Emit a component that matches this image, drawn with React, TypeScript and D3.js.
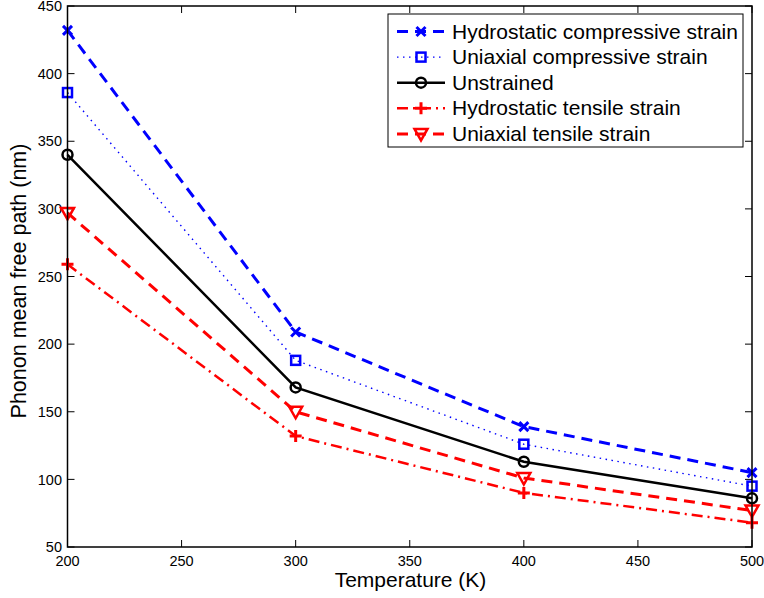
import React from "react";
import * as d3 from "d3";

const temperatures = [200, 300, 400, 500];
const hydroCompressive = [432, 209, 139, 105];
const uniaxialCompressive = [386, 188, 126, 95];
const unstrained = [340, 168, 113, 86];
const hydroTensile = [259, 132, 90, 68];
const uniaxialTensile = [297, 150, 101, 77];
const seriesNames = [
  "Hydrostatic compressive strain",
  "Uniaxial compressive strain",
  "Unstrained",
  "Hydrostatic tensile strain",
  "Uniaxial tensile strain",
];
const xTicks = [200, 250, 300, 350, 400, 450, 500];
const yTicks = [50, 100, 150, 200, 250, 300, 350, 400, 450];

type Style = { color: string; dash: string; width: number; marker: string };
const styles: Style[] = [
  { color: "#0000ff", dash: "11,7", width: 3, marker: "x" },
  { color: "#0000ff", dash: "1.5,4.5", width: 1.4, marker: "square" },
  { color: "#000000", dash: "", width: 2.5, marker: "circle" },
  { color: "#ff0000", dash: "11,5,2,5", width: 2.5, marker: "plus" },
  { color: "#ff0000", dash: "11,7", width: 3, marker: "tri" },
];

const W = 764, H = 598;
const L = 67.5, R = 752, T = 6, B = 547;

function Marker({ type, x, y, color }: { type: string; x: number; y: number; color: string }) {
  const s = 4.5;
  if (type === "x")
    return (
      <path d={`M${x - s},${y - s}L${x + s},${y + s}M${x - s},${y + s}L${x + s},${y - s}`} stroke={color} strokeWidth={3} fill="none" />
    );
  if (type === "square")
    return <rect x={x - 4.5} y={y - 4.5} width={9} height={9} stroke={color} strokeWidth={2.5} fill="none" />;
  if (type === "circle") return <circle cx={x} cy={y} r={5} stroke={color} strokeWidth={2.5} fill="none" />;
  if (type === "plus")
    return (
      <path d={`M${x - 6},${y}L${x + 6},${y}M${x},${y - 6}L${x},${y + 6}`} stroke={color} strokeWidth={3} fill="none" />
    );
  return (
    <path d={`M${x - 6.5},${y - 5}L${x + 6.5},${y - 5}L${x},${y + 6.5}Z`} stroke={color} strokeWidth={2.5} fill="none" strokeLinejoin="miter" />
  );
}

export default function App() {
  const x = d3.scaleLinear().domain([200, 500]).range([L, R]);
  const y = d3.scaleLinear().domain([50, 450]).range([B, T]);
  const data = [hydroCompressive, uniaxialCompressive, unstrained, hydroTensile, uniaxialTensile];
  const line = d3
    .line<number>()
    .x((_, i) => x(temperatures[i]))
    .y((d) => y(d));
  const font = "'Liberation Sans', Arial, Helvetica, sans-serif";
  const legX = 388, legY = 14, legW = 355, legH = 133;
  return (
    <svg width={W} height={H} style={{ position: "absolute", left: 0, top: 0 }} fontFamily={font}>
      <rect width={W} height={H} fill="#fff" />
      {xTicks.map((t) => (
        <g key={"x" + t}>
          <line x1={x(t)} x2={x(t)} y1={B} y2={B - 7} stroke="#000" strokeWidth={1} />
          <line x1={x(t)} x2={x(t)} y1={T} y2={T + 7} stroke="#000" strokeWidth={1} />
          <text x={x(t)} y={565.5} fontSize={14.5} textAnchor="middle">{t}</text>
        </g>
      ))}
      {yTicks.map((t) => (
        <g key={"y" + t}>
          <line x1={L} x2={L + 7} y1={y(t)} y2={y(t)} stroke="#000" strokeWidth={1} />
          <line x1={R} x2={R - 7} y1={y(t)} y2={y(t)} stroke="#000" strokeWidth={1} />
          <text x={62} y={y(t) + 5.2} fontSize={14.5} textAnchor="end">{t}</text>
        </g>
      ))}
      {data.map((d, i) => (
        <g key={"s" + i}>
          <path d={line(d) || ""} fill="none" stroke={styles[i].color} strokeWidth={styles[i].width} strokeDasharray={styles[i].dash} />
          {d.map((v, j) => (
            <Marker key={j} type={styles[i].marker} x={x(temperatures[j])} y={y(v)} color={styles[i].color} />
          ))}
        </g>
      ))}
      <rect x={L} y={T} width={R - L} height={B - T} fill="none" stroke="#000" strokeWidth={1.5} />
      <rect x={legX} y={legY} width={legW} height={legH} fill="#fff" stroke="#000" strokeWidth={1} />
      {seriesNames.map((n, i) => {
        const ry = 31.5 + i * 25.6;
        return (
          <g key={"l" + i}>
            <line x1={397} x2={445} y1={ry} y2={ry} stroke={styles[i].color} strokeWidth={styles[i].width} strokeDasharray={styles[i].dash} />
            <Marker type={styles[i].marker} x={421} y={ry} color={styles[i].color} />
            <text x={452} y={ry + 7} fontSize={21}>{n}</text>
          </g>
        );
      })}
      <text x={410.5} y={587} fontSize={21} textAnchor="middle">Temperature (K)</text>
      <text transform={`translate(26,281) rotate(-90)`} fontSize={21.5} textAnchor="middle">Phonon mean free path (nm)</text>
    </svg>
  );
}
